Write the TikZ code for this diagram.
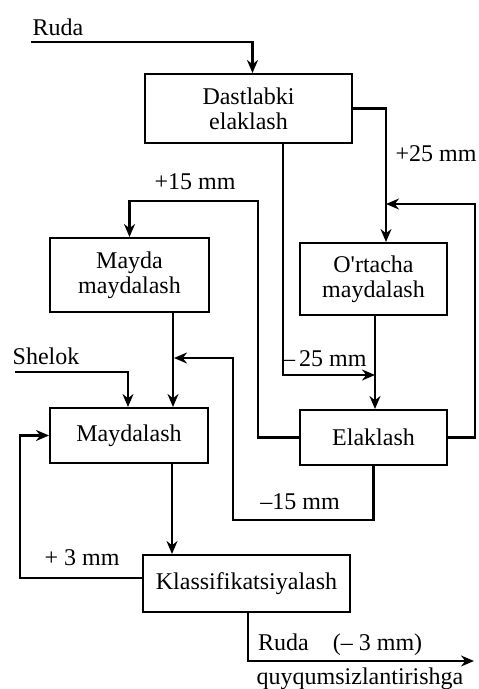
\documentclass[tikz,border=0pt]{standalone}
\usepackage{fontspec}
\setmainfont{Liberation Serif}
\usetikzlibrary{arrows.meta}
\begin{document}
\begin{tikzpicture}[x=1pt,y=-1pt,
  every node/.style={font=\fontsize{24}{25}\selectfont},
  box/.style={draw,line width=2pt,align=center,inner sep=0pt},
  flow/.style={line width=2.4pt},
  arr/.style={flow,-{Stealth[length=13pt,width=11pt]}},
  lbl/.style={inner sep=0pt}]
\useasboundingbox (0,0) rectangle (479,689);

% process boxes
\node[box,minimum width=207pt,minimum height=69pt] (dast) at (248.5,108.5) {Dastlabki\\elaklash};
\node[box,minimum width=159pt,minimum height=74pt] (mayda) at (129.5,275) {Mayda\\maydalash};
\node[box,minimum width=147pt,minimum height=72pt] (ort) at (373.5,279) {O\textquotesingle rtacha\\maydalash};
\node[box,minimum width=158pt,minimum height=55pt] (mayd) at (129,435.5) {Maydalash};
\node[box,minimum width=147pt,minimum height=55pt] (elak) at (373.5,437.5) {Elaklash};
\node[box,minimum width=207pt,minimum height=57pt] (klass) at (246.5,583.5) {Klassifikatsiyalash};

% labels
\node[lbl] (tRuda) at (58,27) {Ruda};
\node[lbl] (t25p) at (436,154) {+25 mm};
\node[lbl] (t15p) at (195,182) {+15 mm};
\node[lbl,anchor=west] (t25m) at (283,359) {–\,25 mm};
\node[lbl] (tShelok) at (46,356) {Shelok};
\node[lbl] (t15m) at (300,502) {–15 mm};
\node[lbl] (t3p) at (82,558) {+ 3 mm};
\node[lbl,anchor=west] (tOut) at (258,645) {Ruda\quad(– 3 mm)};
\node[lbl] (tDest) at (360,679) {quyqumsizlantirishga};

% free ends and bends
\coordinate (rudaIn) at (31,42);
\coordinate (shIn) at (15,372);
\coordinate (c15a) at (258,201);
\coordinate (cR) at (475,204);
\coordinate (jR) at (386,204);
\coordinate (j25) at (375,375);
\coordinate (c15b) at (233,520);
\coordinate (j15) at (174,358);
\coordinate (c3) at (20,500);
\coordinate (outEnd) at (474,661);
\coordinate (m1) at ([xshift=43pt]mayd.south);
\coordinate (d1) at ([xshift=34.5pt]dast.south);

% connectors
\draw[arr] (rudaIn) -| ([xshift=4pt]dast.north);
\draw[arr] (dast.east) -| ([xshift=12.5pt]ort.north);
\draw[arr] (d1) |- (j25);
\draw[arr] ([xshift=1.5pt]ort.south) -- ([xshift=1.5pt]elak.north);
\draw[arr] (elak.west) -| (c15a) -| (mayda.north);
\draw[arr] (elak.east) -| (cR) -- (jR);
\draw[arr] ([xshift=43.5pt]mayda.south) -- ([xshift=44pt]mayd.north);
\draw[arr] (elak.south) |- (c15b) |- (j15);
\draw[arr] (shIn) -| ([xshift=-1pt]mayd.north);
\draw[arr] (m1) -- (m1 |- klass.north);
\draw[arr] ([yshift=5.5pt]klass.west) -| (c3) |- (mayd.west);
\draw[arr] ([xshift=1.5pt]klass.south) |- (outEnd);
\end{tikzpicture}
\end{document}
